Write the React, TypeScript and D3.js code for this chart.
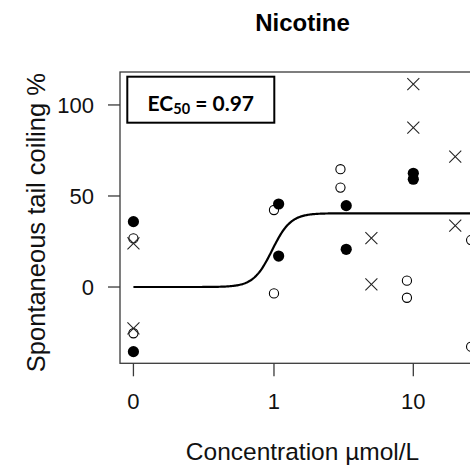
import React from "react";
import * as d3 from "d3";

// Dose-response measurements, one array pair per replicate experiment
const filledDose = [0, 0, 1.08, 1.08, 3.3, 3.3, 10, 10];
const filledResp = [35.9, -35.5, 45.6, 17, 44.7, 20.7, 62.5, 59.2];

const openDose = [0, 0, 1, 1, 3, 3, 9, 9, 26, 26];
const openResp = [26.7, -25.4, 42.3, -3.5, 64.7, 54.6, 3.5, -5.9, 25.8, -32.8];

const crossDose = [0, 0, 5, 5, 10, 10, 20, 20];
const crossResp = [24, -22.7, 26.8, 1.5, 111.5, 87.5, 71.6, 33.7];

// Fitted log-logistic model
const ec50 = 0.97;
const lowerLimit = 0;
const upperLimit = 40.5;
const hillSlope = 6.5;

// Axis ticks
const yTicks = [0, 50, 100];
const xTickValues = [0, 1, 10];
const xTickLabels = ["0", "1", "10"];

// zero dose is shown one decade below the lowest positive dose
const zeroDosePos = 0.098;

const W = 470;
const H = 468;
const plotLeft = 120;
const plotRight = 485;
const plotTop = 72;
const plotBottom = 363.3;

const x = d3.scaleLog().domain([0.0785, 32.7]).range([plotLeft, plotRight]);
const y = d3.scaleLinear().domain([-41.9, 118.1]).range([plotBottom, plotTop]);

const px = (d: number) => x(d === 0 ? zeroDosePos : d);

const model = (d: number) =>
  lowerLimit + (upperLimit - lowerLimit) / (1 + Math.exp(hillSlope * (Math.log(ec50) - Math.log(d))));

const curveDoses = d3.range(0, 401).map((i) => Math.exp(Math.log(zeroDosePos) + (i / 400) * (Math.log(30) - Math.log(zeroDosePos))));
const curvePath = d3
  .line<number>()
  .x((d) => x(d))
  .y((d) => y(model(d)))(curveDoses) as string;

const axisColor = "#3a3a3a";
const sansFont = "'Liberation Sans', Arial, sans-serif";

export default function App() {
  const filled = filledDose.map((d, i) => ({ d, r: filledResp[i] }));
  const open = openDose.map((d, i) => ({ d, r: openResp[i] }));
  const cross = crossDose.map((d, i) => ({ d, r: crossResp[i] }));
  const cs = 6;

  return (
    <svg
      width={W}
      height={H}
      style={{ position: "absolute", left: 0, top: 0, background: "#fff" }}
      fontFamily={sansFont}
    >
      <rect x={0} y={0} width={W} height={H} fill="#fff" />

      {/* title */}
      <text x={(plotLeft + plotRight) / 2} y={31} textAnchor="middle" fontSize={24} fontWeight="bold" fill="#000">
        Nicotine
      </text>

      {/* plot frame */}
      <rect
        x={plotLeft}
        y={plotTop}
        width={plotRight - plotLeft}
        height={plotBottom - plotTop}
        fill="none"
        stroke={axisColor}
        strokeWidth={1.3}
      />

      {/* y axis */}
      {yTicks.map((t) => (
        <g key={"y" + t}>
          <line x1={plotLeft - 12} x2={plotLeft} y1={y(t)} y2={y(t)} stroke={axisColor} strokeWidth={1.3} />
          <text x={94} y={y(t)} dy="0.36em" textAnchor="end" fontSize={22} fill="#111">
            {t}
          </text>
        </g>
      ))}

      {/* x axis */}
      {xTickValues.map((t, i) => (
        <g key={"x" + t}>
          <line x1={px(t)} x2={px(t)} y1={plotBottom} y2={plotBottom + 13} stroke={axisColor} strokeWidth={1.3} />
          <text x={px(t)} y={409} textAnchor="middle" fontSize={22} fill="#111">
            {xTickLabels[i]}
          </text>
        </g>
      ))}

      <text x={(plotLeft + plotRight) / 2} y={460} textAnchor="middle" fontSize={24.5} fill="#111">
        Concentration µmol/L
      </text>
      <text
        transform={`translate(45,${(plotTop + plotBottom) / 2 + 5}) rotate(-90)`}
        textAnchor="middle"
        fontSize={25.5}
        fill="#111"
      >
        Spontaneous tail coiling %
      </text>

      {/* fitted curve */}
      <path d={curvePath} fill="none" stroke="#000" strokeWidth={2.2} />

      {/* observations */}
      {open.map((p, i) => (
        <circle key={"o" + i} cx={px(p.d)} cy={y(p.r)} r={4.6} fill="none" stroke="#000" strokeWidth={1.1} />
      ))}
      {cross.map((p, i) => {
        const cx = px(p.d);
        const cy = y(p.r);
        return (
          <g key={"c" + i} stroke="#222" strokeWidth={1.1}>
            <line x1={cx - cs} y1={cy - cs} x2={cx + cs} y2={cy + cs} />
            <line x1={cx - cs} y1={cy + cs} x2={cx + cs} y2={cy - cs} />
          </g>
        );
      })}
      {filled.map((p, i) => (
        <circle key={"f" + i} cx={px(p.d)} cy={y(p.r)} r={5.6} fill="#000" />
      ))}

      {/* EC50 annotation */}
      <rect x={127.3} y={76.7} width={147} height={46} fill="#fff" stroke="#000" strokeWidth={2} />
      <text x={200.8} y={111} textAnchor="middle" fontFamily="Lato, 'Open Sans', sans-serif" fontWeight="bold" fontSize={21} fill="#000">
        EC
        <tspan fontSize={14.5} dy={3}>
          50
        </tspan>
        <tspan dy={-3}> = 0.97</tspan>
      </text>
    </svg>
  );
}
